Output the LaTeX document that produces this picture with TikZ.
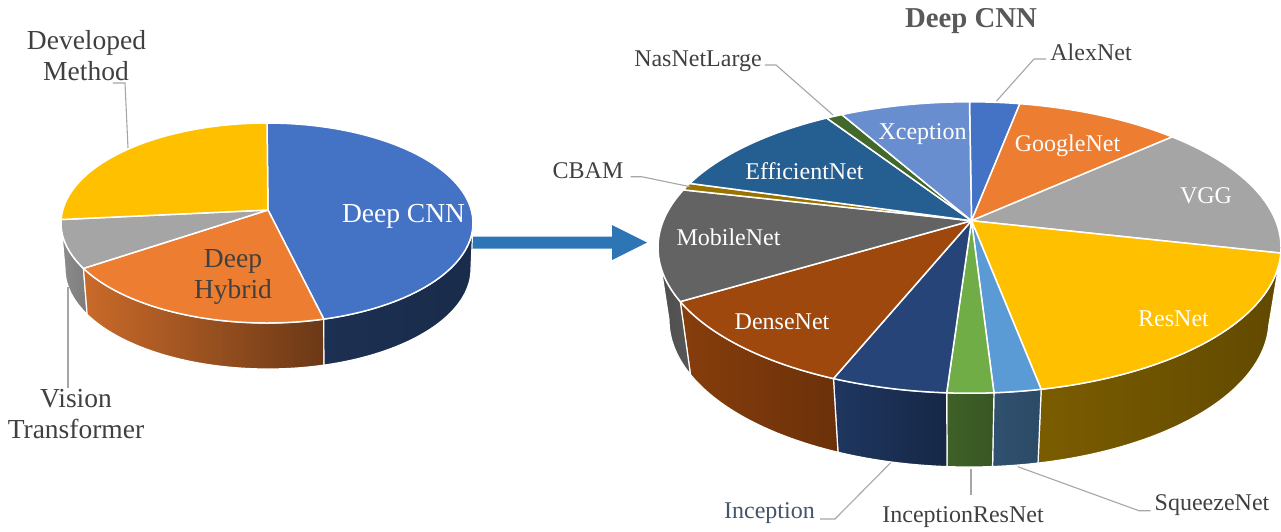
\documentclass[tikz,border=0pt]{standalone}
\usepackage{fontspec}
\setmainfont{Liberation Serif}
\definecolor{cBlue}{HTML}{4472C4}
\definecolor{cOrange}{HTML}{ED7D31}
\definecolor{cGray}{HTML}{A5A5A5}
\definecolor{cYellow}{HTML}{FFC000}
\definecolor{cLBlue}{HTML}{5B9BD5}
\definecolor{cGreen}{HTML}{70AD47}
\definecolor{cDBlue}{HTML}{264478}
\definecolor{cBrown}{HTML}{9E480E}
\definecolor{cDGray}{HTML}{636363}
\definecolor{cOlive}{HTML}{997300}
\definecolor{cSteel}{HTML}{255E91}
\definecolor{cDGreen}{HTML}{43682B}
\definecolor{cSky}{HTML}{698ED0}
\definecolor{arrowblue}{HTML}{2E75B6}
\definecolor{leadgray}{HTML}{A6A6A6}
\definecolor{lbldark}{HTML}{404040}
\definecolor{titlegray}{HTML}{595959}
\definecolor{incepcol}{HTML}{44546A}
% left pie: top ellipse (267,223) 206x100, bottom ellipse (268,269) 203x100, apex La
\newcommand\Lslice[3]{\filldraw[fill=#3,sep] (La) -- plot[domain=#1:#2,samples=60,variable=\q]({267+206*cos(\q)},{223+100*sin(\q)}) -- cycle;}
\newcommand\Lside[4]{\shadedraw[sidesep,left color=#3,right color=#4] plot[domain=#1:#2,samples=60,variable=\q]({267+206*cos(\q)},{223+100*sin(\q)}) -- plot[domain=-#2:-#1,samples=60,variable=\q]({268+203*cos(-\q)},{269+100*sin(-\q)}) -- cycle;}
% right pie: top ellipse (969.5,247.5) 311.5x145.7, bottom ellipse (969,320) 300x147, apex Ra
\newcommand\Rslice[3]{\filldraw[fill=#3,sep] (Ra) -- plot[domain=#1:#2,samples=80,variable=\q]({969.5+311.5*cos(\q)},{247.5+145.7*sin(\q)}) -- cycle;}
\newcommand\Rside[4]{\shadedraw[sidesep,left color=#3,right color=#4] plot[domain=#1:#2,samples=80,variable=\q]({969.5+311.5*cos(\q)},{247.5+145.7*sin(\q)}) -- plot[domain=-#2:-#1,samples=80,variable=\q]({969+300*cos(-\q)},{320+147*sin(-\q)}) -- cycle;}
\begin{document}
\begin{tikzpicture}[x=1pt,y=-1pt,
  sep/.style={draw=white,line width=1.5pt,line join=round},
  sidesep/.style={draw=white,line width=1.2pt,line join=round},
  leader/.style={draw=leadgray,line width=1.1pt},
  inlbl/.style={text=white,font=\fontsize{24}{28}\selectfont,inner sep=0pt,anchor=base},
  outlbl/.style={text=lbldark,font=\fontsize{24}{28}\selectfont,inner sep=0pt,anchor=base},
  biglbl/.style={text=lbldark,font=\fontsize{27.5}{31}\selectfont,inner sep=0pt,anchor=base}]
\useasboundingbox (0,0) rectangle (1281,531);
\clip (0,0) rectangle (1281,531);

% ---------- block arrow ----------
\fill[arrowblue] (470,236.5) -- (612,236.5) -- (612,225) -- (647,242.5) -- (612,260) -- (612,248.5) -- (470,248.5) -- cycle;

% ---------- left pie ----------
\coordinate (La) at (268,210);
\Lside{153}{180}{cGray!85!black}{cGray!75!black}
\Lside{74}{153}{cOrange!85!black}{cOrange!45!black}
\Lside{0}{74}{cBlue!42!black}{cBlue!38!black}
\Lslice{-90}{74}{cBlue}
\Lslice{74}{153}{cOrange}
\Lslice{153}{182}{cGray}
\Lslice{182}{270}{cYellow}

\node[biglbl,text=white] (lcnn) at (403.5,222) {Deep CNN};
\node[biglbl] (hyb1) at (233,267) {Deep};
\node[biglbl] (hyb2) at (233,298) {Hybrid};
\node[biglbl] (dev1) at (86.5,49) {Developed};
\node[biglbl] (dev2) at (86,80) {Method};
\node[biglbl] (vis1) at (76,407) {Vision};
\node[biglbl] (vis2) at (76,438) {Transformer};
\coordinate (devrim) at (128,148);
\coordinate (visrim) at (68,287);
\draw[leader] ([shift={(-16,3)}]dev2.base east) -- (125,83) -- (devrim);
\draw[leader] (visrim) -- ([shift={(-8,-1)}]vis1.north);

% ---------- right pie ----------
\coordinate (Ra) at (971.5,220.7);
\Rside{0}{2.2}{cGray!60!black}{cGray!55!black}
\Rside{2.2}{76.7}{cYellow!48!black}{cYellow!38!black}
\Rside{76.7}{85.5}{cLBlue!52!black}{cLBlue!48!black}
\Rside{85.5}{94.2}{cGreen!56!black}{cGreen!50!black}
\Rside{94.2}{115.9}{cDBlue!80!black}{cDBlue!58!black}
\Rside{115.9}{158.2}{cBrown!85!black}{cBrown!68!black}
\Rside{158.2}{180}{cDGray!78!black}{cDGray!88!black}
\Rslice{270}{279.3}{cBlue}
\Rslice{279.3}{310.6}{cOrange}
\Rslice{310.6}{362.2}{cGray}
\Rslice{362.2}{436.7}{cYellow}
\Rslice{436.7}{445.5}{cLBlue}
\Rslice{445.5}{454.2}{cGreen}
\Rslice{454.2}{475.9}{cDBlue}
\Rslice{475.9}{518.2}{cBrown}
\Rslice{518.2}{563.3}{cDGray}
\Rslice{563.3}{566.1}{cOlive}
\Rslice{566.1}{602.7}{cSteel}
\Rslice{602.7}{605.8}{cDGreen}
\Rslice{605.8}{630}{cSky}

% labels inside
\node[inlbl] (xcep) at (922.5,139) {Xception};
\node[inlbl] (effn) at (804.5,179) {EfficientNet};
\node[inlbl] (mobn) at (728.5,245) {MobileNet};
\node[inlbl] (goog) at (1067.5,151) {GoogleNet};
\node[inlbl] (vgg) at (1206,203) {VGG};
\node[inlbl] (resn) at (1173.5,326) {ResNet};
\node[inlbl] (dens) at (782,329) {DenseNet};

% title and outside labels
\node[text=titlegray,font=\bfseries\fontsize{28.8}{32}\selectfont,inner sep=0pt,anchor=base] (title) at (971,27) {Deep CNN};
\node[outlbl] (alex) at (1091,60) {AlexNet};
\node[outlbl] (nas) at (698,66) {NasNetLarge};
\node[outlbl] (cbam) at (588,178) {CBAM};
\node[outlbl,text=incepcol] (incep) at (769.5,518) {Inception};
\node[outlbl] (incres) at (963,522) {InceptionResNet};
\node[outlbl] (sq) at (1212,510) {SqueezeNet};

\coordinate (alexrim) at (996.5,101);
\coordinate (nasrim) at (833,115);
\coordinate (cbamrim) at (690,186.7);
\coordinate (inceprim) at (890.7,462.7);
\coordinate (increrim) at (971,469);
\coordinate (sqrim) at (1017.8,466.7);
\draw[leader] (alexrim) -- (1034,59) -- ([shift={(-4,-1)}]alex.base west);
\draw[leader] (nasrim) -- (776,65) -- ([shift={(3,-1)}]nas.base east);
\draw[leader] (cbamrim) -- (641.7,176.7) -- ([shift={(7,-1.3)}]cbam.base east);
\draw[leader] (inceprim) -- (835,519) -- ([shift={(5,1)}]incep.base east);
\draw[leader] (increrim) -- ([shift={(8,-10.6)}]incres.north);
\draw[leader] (sqrim) -- (1138.9,510.7) -- ([shift={(-4,0.7)}]sq.base west);
\end{tikzpicture}
\end{document}
